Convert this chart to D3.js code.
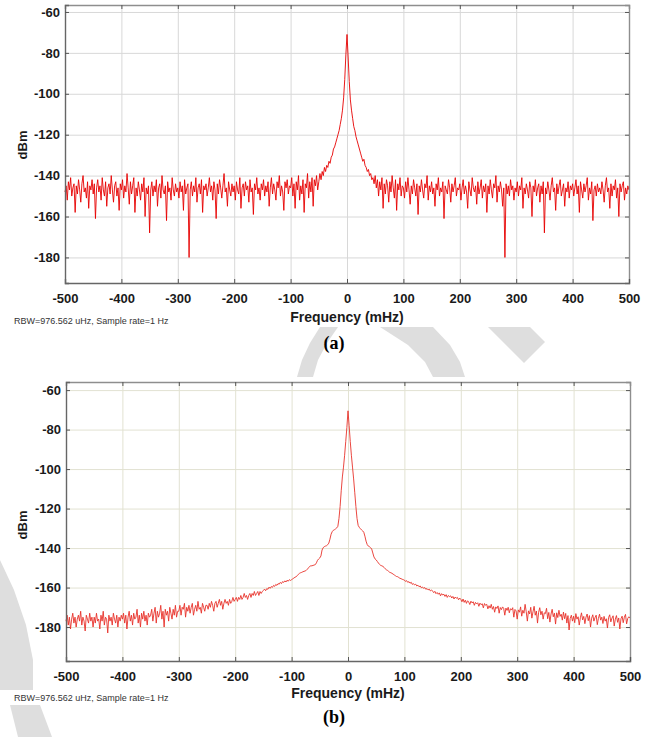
<!DOCTYPE html>
<html>
<head>
<meta charset="utf-8">
<script src="https://cdn.jsdelivr.net/npm/d3@7"></script>
<style>
  body { margin: 0; background: #fff; }
  svg { display: block; }
</style>
</head>
<body>
<svg id="fig" width="665" height="737"></svg>
<script>
// tick values shared by both panels
const freqTicks = [-500, -400, -300, -200, -100, 0, 100, 200, 300, 400, 500];
const dbmTicks = [-60, -80, -100, -120, -140, -160, -180];
const noteText = 'RBW=976.562 uHz, Sample rate=1 Hz';

// (a) spectrum, dBm, one value every 2 mHz from -500 to 500
const spectrumA = [
  -148,-145,-152,-143,-147,-141,-150,-146,-144,-158,-145,-149,-142,-147,-153,-144,-140,-148,-146,-151,-143,-156,-145,-147,-142,
  -149,-144,-161,-146,-142,-148,-145,-152,-141,-147,-150,-143,-155,-146,-144,-149,-140,-147,-153,-145,-143,-150,-146,-157,-144,
  -147,-142,-151,-145,-148,-139,-146,-154,-143,-149,-145,-141,-158,-146,-150,-143,-147,-152,-144,-148,-141,-160,-146,-149,-145,
  -168,-147,-143,-150,-145,-148,-142,-155,-146,-144,-151,-140,-147,-149,-145,-162,-143,-148,-146,-152,-141,-147,-150,-144,-148,
  -146,-151,-143,-148,-145,-157,-142,-149,-146,-144,-180,-147,-143,-150,-145,-148,-141,-153,-146,-144,-149,-142,-158,-145,-147,
  -144,-150,-146,-141,-148,-145,-152,-143,-147,-161,-144,-149,-142,-146,-151,-145,-139,-148,-146,-155,-143,-147,-150,-144,-148,
  -145,-152,-143,-147,-149,-141,-156,-146,-144,-150,-143,-147,-145,-153,-142,-148,-146,-159,-144,-147,-141,-149,-146,-152,-144,
  -147,-142,-150,-145,-148,-143,-155,-146,-141,-149,-144,-147,-152,-143,-146,-140,-150,-145,-148,-157,-143,-146,-142,-149,-145,
  -146,-141,-150,-144,-156,-143,-147,-140,-152,-145,-149,-142,-158,-144,-146,-139,-151,-143,-148,-141,-155,-142,-145,-140,-147,
  -143,-139,-142,-138,-140,-136,-138,-135,-136,-133,-134,-131,-130,-127,-126,-124,-122,-120,-118,-115,-112,-108,-102,-93,-81,
  -71,-82,-94,-103,-108,-112,-116,-118,-121,-123,-125,-127,-129,-131,-133,-132,-135,-136,-138,-137,-140,-139,-142,-141,-144,
  -140,-146,-142,-150,-143,-147,-141,-156,-144,-149,-142,-145,-153,-143,-148,-140,-146,-151,-142,-157,-144,-147,-141,-150,-145,
  -146,-151,-143,-148,-141,-147,-154,-145,-149,-142,-146,-150,-144,-159,-145,-148,-142,-147,-151,-144,-146,-140,-152,-145,-148,
  -143,-149,-146,-155,-144,-147,-141,-150,-146,-148,-143,-161,-145,-147,-149,-142,-146,-153,-144,-148,-145,-141,-150,-146,-147,
  -144,-152,-146,-142,-149,-145,-148,-156,-143,-147,-150,-141,-146,-148,-145,-154,-143,-149,-146,-142,-151,-145,-148,-144,-158,
  -145,-149,-142,-147,-151,-144,-146,-140,-153,-145,-148,-143,-147,-155,-146,-180,-144,-149,-145,-150,-142,-147,-145,-152,-146,
  -148,-143,-150,-145,-147,-141,-156,-146,-149,-144,-147,-151,-143,-146,-160,-145,-148,-142,-150,-146,-144,-153,-145,-149,-143,
  -168,-146,-149,-143,-147,-152,-145,-141,-148,-146,-157,-144,-149,-145,-142,-150,-147,-144,-155,-146,-148,-143,-151,-145,-147,
  -144,-150,-146,-142,-149,-145,-158,-143,-147,-151,-144,-148,-145,-141,-152,-146,-149,-143,-162,-147,-145,-150,-144,-148,-146,
  -149,-143,-147,-153,-145,-141,-148,-146,-156,-144,-150,-145,-147,-142,-151,-146,-160,-144,-148,-145,-143,-152,-146,-149,-145,
  -147
];

// (b) spectrum, dBm, one value every 2 mHz from -500 to 500
const spectrumB = [
  -177,-174,-179,-175,-181,-176,-173,-178,-175,-180,-176,-174,-177,-172,-179,-175,-177,-182,-174,-176,-178,-173,-177,-175,-180,
  -175,-178,-173,-177,-176,-181,-174,-177,-172,-179,-175,-176,-183,-174,-177,-175,-179,-173,-176,-178,-174,-180,-175,-177,-174,
  -176,-173,-178,-174,-181,-175,-172,-177,-174,-179,-173,-176,-175,-171,-178,-174,-180,-173,-176,-172,-177,-174,-179,-173,-175,
  -174,-171,-177,-173,-170,-178,-172,-175,-173,-169,-176,-172,-180,-171,-174,-172,-177,-170,-173,-176,-171,-174,-169,-175,-172,
  -172,-169,-174,-170,-171,-168,-175,-170,-172,-169,-173,-170,-168,-174,-171,-169,-172,-167,-171,-170,-173,-168,-170,-172,-169,
  -169,-171,-168,-170,-167,-169,-172,-168,-167,-170,-168,-166,-169,-167,-171,-168,-166,-168,-167,-169,-166,-168,-167,-165,-167,
  -166,-165,-167,-165,-166,-164,-166,-165,-163,-165,-164,-166,-164,-163,-165,-163,-164,-162,-164,-163,-162,-164,-162,-163,-162,
  -161.5,-160.8,-161.6,-160.5,-160.9,-159.8,-160.4,-159.5,-159.9,-158.9,-159.4,-158.4,-158.9,-158,-158.3,-157.4,-158,-157,-157.4,-156.6,-157.2,-156.3,-156.8,-156,-156.4,
  -156,-155.6,-155.2,-154.8,-154.5,-154,-153.3,-152.8,-152.5,-152.3,-152,-151.8,-151.6,-151.3,-150.7,-150,-149.3,-149,-149,-148.8,-148.6,-148.4,-147.5,-146.2,-145.5,
  -145,-144,-141,-139.8,-139.3,-139,-138.8,-138.3,-137.5,-135.5,-133,-131.7,-131,-130.7,-130.3,-129.8,-129,-125,-119,-111,-104,-99,-93,-86,-79,
  -70.5,-78,-86,-93,-99,-105,-112,-119,-125,-128.5,-129.5,-130.2,-130.8,-131.3,-132,-134,-136.5,-138.2,-139,-139.3,-139.8,-140.5,-142.5,-144.5,-145.5,
  -146,-146.8,-147.6,-148.3,-148.8,-149,-149.3,-149.8,-150.5,-151,-151.3,-151.8,-152.3,-152.5,-152.8,-153.2,-153.6,-154,-154.4,-154.5,-154.9,-155.3,-155.5,-155.8,-156,
  -156.2,-156.9,-156.5,-157.4,-157,-157.8,-157.3,-158.4,-158,-158.7,-158.3,-159.2,-158.8,-159.6,-159.2,-160.1,-159.7,-160.4,-160,-160.9,-160.5,-161.2,-160.8,-161.7,-161.2,
  -161.8,-162.6,-161.9,-163.1,-162.5,-163.4,-162.7,-164.2,-163.1,-163.8,-163.4,-164.5,-163.6,-165,-164,-164.6,-164.2,-165.3,-164.5,-165.8,-164.8,-165.4,-165,-166.2,-165.3,
  -166,-167.2,-165.8,-167.5,-166.4,-168,-166.7,-167.3,-168.6,-166.9,-167.8,-167.2,-169,-167.5,-168.3,-167.7,-169.5,-167.9,-168.7,-168.2,-170.3,-168.1,-169,-168.5,-170.8,
  -169.2,-170.4,-168.5,-171,-169.6,-172.5,-169.8,-170.6,-169.3,-173,-170.1,-171.2,-169.8,-170.5,-174,-170.4,-171.6,-170,-172.8,-170.7,-171.4,-170.2,-175,-171.1,-171.8,
  -176,-171.3,-172.5,-169.8,-174.5,-171.5,-173,-168.5,-172.2,-177,-171.8,-173.4,-170,-175.5,-172.3,-169.5,-174,-171.9,-178,-172.5,-170.2,-173.8,-172,-176,-172.8,
  -173.2,-170.5,-175.8,-172.6,-177.5,-173.4,-171,-174.8,-173,-178.5,-172.8,-175.2,-171.5,-174.6,-173.5,-176.5,-172.4,-175.8,-173.1,-178,-174.2,-181.5,-175.6,-174,-177,
  -174.5,-177.8,-173.2,-176,-174.8,-179,-175.3,-172.8,-176.4,-174.6,-178.3,-175,-173.4,-176.8,-174.2,-180,-175.5,-173.8,-177,-175.2,-174,-178.8,-175.6,-173.5,-176.5,
  -175,-178.2,-174.6,-177,-175.8,-180.5,-175.2,-173.8,-177.4,-175.5,-174.3,-179.5,-176,-174.2,-177.6,-175.4,-181,-175.8,-174.5,-177.8,-175,-173.6,-178.4,-175.6,-174.8,
  -175.5
];

const svg = d3.select('#fig');
const font = '"Liberation Sans", Arial, sans-serif';

// light grey watermark shapes behind the figure
const watermark = [
  [[320, 327], [338, 327], [327, 343], [318, 360], [313, 377], [297, 377], [302, 360], [310, 343]],
  [[380, 327], [433, 327], [450, 345], [460, 362], [465, 377], [433, 377], [425, 362], [408, 345]],
  [[488, 327], [530, 327], [545, 342], [524, 363]],
  [[0, 560], [14, 590], [26, 625], [33, 660], [33, 690], [0, 690]],
  [[10, 705], [40, 705], [52, 737], [18, 737]]
];
svg.append('g').selectAll('path')
  .data(watermark)
  .join('path')
  .attr('d', d => d3.line()(d) + 'Z')
  .attr('fill', '#dedede');

function drawPanel(values, o) {
  let g = svg.append('g');
  let x = d3.scaleLinear().domain([-500, 500]).range([o.left, o.right]);
  let y = d3.scaleLinear().domain([o.yMin, o.yMax]).range([o.bottom, o.top]);
  let h = o.bottom - o.top;
  let w = o.right - o.left;
  let label = d => String(d);

  g.append('rect')
    .attr('x', o.left).attr('y', o.top)
    .attr('width', w).attr('height', h)
    .attr('fill', '#fff');

  // grid
  let gx = g.append('g')
    .attr('transform', 'translate(0,' + o.bottom + ')')
    .call(d3.axisBottom(x).tickValues(freqTicks.slice(1, -1)).tickSize(-h).tickFormat(''));
  let gy = g.append('g')
    .attr('transform', 'translate(' + o.left + ',0)')
    .call(d3.axisLeft(y).tickValues(dbmTicks).tickSize(-w).tickFormat(''));
  [gx, gy].forEach(a => {
    a.select('.domain').remove();
    a.selectAll('line').attr('stroke', o.grid).attr('stroke-width', 1);
  });

  // spectrum trace
  let step = 1000 / (values.length - 1);
  let line = d3.line()
    .x((d, i) => x(-500 + i * step))
    .y(d => y(d));
  g.append('path')
    .datum(values)
    .attr('d', line)
    .attr('fill', 'none')
    .attr('stroke', o.color)
    .attr('stroke-width', o.lineWidth)
    .attr('stroke-linejoin', 'round');

  // box: top and right
  let top = g.append('g')
    .attr('transform', 'translate(0,' + o.top + ')')
    .call(d3.axisTop(x).tickValues(freqTicks).tickSize(-4).tickFormat(''));
  let right = g.append('g')
    .attr('transform', 'translate(' + o.right + ',0)')
    .call(d3.axisRight(y).tickValues(dbmTicks).tickSize(-4).tickFormat(''));
  [top, right].forEach(a => {
    a.select('.domain').attr('stroke', '#8e8e8e').attr('stroke-width', 1.4);
    a.selectAll('line').attr('stroke', '#555');
  });

  // axes with labels: bottom and left
  let bottom = g.append('g')
    .attr('transform', 'translate(0,' + o.bottom + ')')
    .call(d3.axisBottom(x).tickValues(freqTicks).tickSize(-4).tickPadding(11).tickFormat(label));
  let left = g.append('g')
    .attr('transform', 'translate(' + o.left + ',0)')
    .call(d3.axisLeft(y).tickValues(dbmTicks).tickSize(-4).tickPadding(5).tickFormat(label));
  [bottom, left].forEach(a => {
    a.select('.domain').attr('stroke', '#666').attr('stroke-width', 1.4);
    a.selectAll('line').attr('stroke', '#555');
    a.selectAll('text')
      .attr('fill', '#1a1a1a')
      .style('font-family', font)
      .style('font-weight', 'bold')
      .style('font-size', '13px');
  });

  g.append('text')
    .attr('transform', 'translate(' + 27 + ',' + o.dbmY + ') rotate(-90)')
    .attr('text-anchor', 'middle')
    .style('font-family', font).style('font-weight', 'bold').style('font-size', '13px')
    .attr('fill', '#1a1a1a')
    .text('dBm');

  g.append('text')
    .attr('x', (o.left + o.right) / 2).attr('y', o.titleY)
    .attr('text-anchor', 'middle')
    .style('font-family', font).style('font-weight', 'bold').style('font-size', '14px')
    .attr('fill', '#1a1a1a')
    .text('Frequency (mHz)');

  g.append('text')
    .attr('x', 14).attr('y', o.noteY)
    .style('font-family', font).style('font-size', '9px')
    .attr('fill', '#333')
    .text(noteText);

  g.append('text')
    .attr('x', 334).attr('y', o.tagY)
    .attr('text-anchor', 'middle')
    .style('font-family', '"Liberation Serif", "Times New Roman", serif')
    .style('font-weight', 'bold').style('font-size', '18px')
    .attr('fill', '#000')
    .text(o.tag);
}

drawPanel(spectrumA, {
  left: 65, right: 629, top: 5, bottom: 283,
  yMin: -192.5, yMax: -56.6,
  grid: '#d8d8d8', color: '#e60000', lineWidth: 0.9,
  dbmY: 145, titleY: 322, noteY: 324, tagY: 349, tag: '(a)'
});

drawPanel(spectrumB, {
  left: 66, right: 630, top: 382, bottom: 661,
  yMin: -197.2, yMax: -55.9,
  grid: '#e2e2d2', color: '#e8322a', lineWidth: 0.9,
  dbmY: 525, titleY: 698, noteY: 701, tagY: 723, tag: '(b)'
});
</script>
</body>
</html>
